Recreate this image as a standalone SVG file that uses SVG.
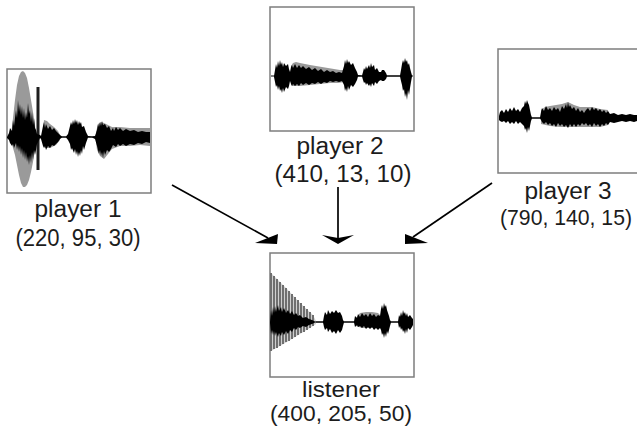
<svg xmlns="http://www.w3.org/2000/svg" width="637" height="432" viewBox="0 0 637 432">
  <style>
    .frame { fill: #ffffff; stroke: #7d7d7d; stroke-width: 1.5; }
    .wave { fill: #000000; }
    .halo { fill: #9a9a9a; }
    .axis { stroke: #000000; stroke-width: 1; }
    .label { font-family: "Liberation Sans", Arial, sans-serif; font-size: 23px; fill: #1c1c1c; text-anchor: middle; }
    .edge { stroke: #000000; stroke-width: 1.7; fill: none; }
    .head { fill: #000000; }
  </style>
  <rect width="637" height="432" fill="#ffffff"/>

  <!-- player 1 -->
  <g id="player1">
    <rect class="frame" x="7" y="69" width="144" height="124"/>
    <line class="axis" x1="8" y1="137" x2="150" y2="137"/>
    <polygon class="halo" points="11,135 13,118 15,100 17,85 19,76 21,72 23,71 25,73 27,78 29,88 31,100 33,112 35,125 36,135 36,140 35,150 33,162 31,172 29,180 27,185 25,187 23,187 21,183 19,175 17,165 15,155 13,148 11,140"/>
    <polygon class="halo" points="43,130 44,120 47,121 50,124 54,127 58,131 60,135 60,140 56,145 50,148 45,148 43,145"/>
    <polygon class="halo" points="96,132 98,124 101,122 104,123 108,125 112,127 120,127 130,128 140,128 150,128 150,146 140,145 130,146 120,146 112,149 108,154 104,159 100,156 97,150 96,142"/>
    <rect x="36.5" y="87" width="3" height="83" fill="#1e1e1e"/>
    <polygon class="wave" points="7,137 9,133 10,128 12,131 13,120 14,126 16,110 17,118 18,100 19,112 20,104 21,115 22,106 23,118 24,108 25,120 26,112 27,118 28,103 29,114 30,110 31,122 32,112 33,125 34,118 35,128 36,130 37,134 40,135 41,136 43,126 44,122 45,128 46,124 48,129 50,126 52,130 54,128 56,131 58,133 60,135 62,136.5 66,136.5 68,134 70,126 71,122 72,125 73,120 74,124 75,119 76,123 77,120 78,125 79,121 80,124 81,122 82,127 84,126 86,132 88,136 92,136.5 95,136 97,130 98,124 99,127 100,122 101,126 102,121 103,125 105,124 107,128 109,126 111,131 113,128 114,131 116,127 118,130 120,128 123,131 126,129 130,131 134,130 138,132 142,131 146,132 150,132 150,143 146,142 142,144 138,143 134,145 130,144 126,146 123,144 120,146 118,144 116,147 113,145 111,149 109,152 107,150 105,155 104,151 103,158 102,152 101,156 100,150 99,154 97,146 95,139 92,137.5 88,137.5 86,143 84,150 83,146 82,154 81,150 80,156 79,152 78,157 77,151 76,155 75,149 74,153 72,148 71,150 70,144 68,140 66,137.5 62,137.5 60,139 58,142 56,144 54,146 52,145 50,148 48,146 46,150 45,146 44,148 43,146 41,139 40,138 37,144 36,150 35,155 34,150 33,160 32,152 31,163 30,155 29,165 28,156 27,162 26,152 25,160 24,150 23,158 22,148 21,155 20,146 19,152 18,145 17,150 16,143 14,148 13,144 12,146 10,143 9,140 7,138"/>
    <text class="label" x="78" y="217" textLength="87" lengthAdjust="spacingAndGlyphs">player 1</text>
    <text class="label" x="78" y="246" textLength="125" lengthAdjust="spacingAndGlyphs">(220, 95, 30)</text>
  </g>

  <!-- player 2 -->
  <g id="player2">
    <rect class="frame" x="270" y="7" width="144" height="124"/>
    <line class="axis" x1="271" y1="76" x2="413" y2="76"/>
    <polygon class="halo" points="291,66 293,63 296,62 300,63 305,64 310,65 316,66 322,67 328,68 334,69 340,70 344,70 344,82 338,83 330,83 320,84 310,85 300,86 292,86 291,84"/>
    <polygon class="wave" points="274,76 275,70 276,64 277,68 278,61 279,66 280,60 281,65 282,62 283,67 284,63 286,66 288,64 289,69 290,72 291,67 292,65 293,68 295,64 297,68 299,65 301,68 303,66 306,69 309,67 312,70 315,68 318,71 321,69 324,72 327,70 330,72 333,71 336,73 339,72 342,73 344,66 345,60 346,64 347,59 348,63 349,61 351,65 353,63 355,68 357,72 358,75 362,75.5 363,72 364,68 365,70 366,66 367,69 369,65 370,68 371,63 372,67 374,65 375,70 377,68 379,72 381,72 382,70 384,70 386,73 387,75.5 400,75.5 401,70 402,64 403,60 404,63 405,58 406,62 407,60 408,65 409,63 410,68 411,72 412,75.5 412,76.5 411,82 410,88 409,95 408,90 407,100 406,93 405,97 404,89 403,91 402,85 401,81 400,76.5 387,76.5 386,79 384,81 382,81 381,80 379,81 377,84 375,82 374,86 372,83 371,87 370,84 369,86 367,83 366,85 365,82 364,83 363,80 362,76.5 358,76.5 357,80 355,84 353,87 351,85 349,90 348,86 347,92 346,88 345,91 344,85 342,81 339,82 336,81 333,82 330,81 327,83 324,82 321,84 318,82 315,84 312,83 309,85 306,83 303,85 301,83 299,86 297,84 295,86 293,84 292,86 291,84 290,81 289,86 288,89 286,87 284,92 283,88 282,93 281,89 280,91 279,86 278,90 277,85 276,87 275,82 274,77"/>
    <text class="label" x="340" y="154" textLength="87" lengthAdjust="spacingAndGlyphs">player 2</text>
    <text class="label" x="343" y="182" textLength="137" lengthAdjust="spacingAndGlyphs">(410, 13, 10)</text>
  </g>

  <!-- player 3 -->
  <g id="player3">
    <rect class="frame" x="498" y="49" width="144" height="124"/>
    <line class="axis" x1="499" y1="118" x2="637" y2="118"/>
    <polygon class="halo" points="541,110 545,107 550,106 556,105 562,104 568,102 574,105 580,107 586,107 592,107 600,109 608,110 608,125 600,127 590,127 580,127 570,127 560,127 550,126 541,124"/>
    <polygon class="wave" points="499,116 500,112 502,110 504,113 506,109 508,112 510,108 512,111 514,107 516,111 518,109 520,112 522,108 524,106 525,101 526,104 527,100 528,103 529,105 530,110 531,115 532,117.5 540,117.5 541,112 542,108 544,111 546,106 548,110 550,108 552,111 554,107 556,110 558,108 560,112 562,106 564,109 566,104 567,108 568,102 569,107 570,105 572,109 574,107 576,111 578,108 580,112 582,110 584,113 586,110 588,108 590,111 592,107 594,110 596,108 598,111 600,109 602,112 604,110 606,113 608,111 610,114 614,113 618,115 622,114 626,115 630,114 634,115 637,115 637,121 634,122 630,121 626,122 622,121 618,122 614,123 610,122 608,125 606,123 604,126 602,124 600,127 598,124 596,126 594,123 592,127 590,124 588,126 586,123 584,125 582,123 580,126 578,124 576,127 574,124 572,127 570,124 568,128 566,125 564,127 562,124 560,126 558,123 556,127 554,124 552,126 550,123 548,125 546,122 544,124 542,122 541,120 540,118.5 532,118.5 531,121 530,126 529,131 528,127 527,133 526,128 525,130 524,126 522,124 520,122 518,124 516,121 514,124 512,122 510,124 508,121 506,123 504,121 502,122 500,121 499,120"/>
    <text class="label" x="568" y="199" textLength="87" lengthAdjust="spacingAndGlyphs">player 3</text>
    <text class="label" x="566" y="225" textLength="132" lengthAdjust="spacingAndGlyphs" style="font-size:22px">(790, 140, 15)</text>
  </g>

  <!-- listener -->
  <g id="listener">
    <rect class="frame" x="270" y="253" width="144" height="124"/>
    <line class="axis" x1="271" y1="322" x2="413" y2="322"/>
    <polygon fill="#cfcfcf" points="271,273 287,289 300,303 313,315 316,321 316,324 313,326 300,334 287,342 271,351"/>
    <g stroke="#6f6f6f" stroke-width="2">
      <line x1="271" y1="273" x2="271" y2="351"/>
      <line x1="274" y1="276" x2="274" y2="349"/>
      <line x1="277" y1="279" x2="277" y2="348"/>
      <line x1="280" y1="282" x2="280" y2="346"/>
      <line x1="283" y1="285" x2="283" y2="344"/>
      <line x1="286" y1="288" x2="286" y2="342"/>
      <line x1="289" y1="291" x2="289" y2="341"/>
      <line x1="292" y1="294" x2="292" y2="339"/>
      <line x1="295" y1="297" x2="295" y2="337"/>
      <line x1="298" y1="300" x2="298" y2="335"/>
      <line x1="301" y1="303" x2="301" y2="333"/>
      <line x1="304" y1="306" x2="304" y2="332"/>
      <line x1="307" y1="309" x2="307" y2="330"/>
      <line x1="310" y1="312" x2="310" y2="328"/>
      <line x1="313" y1="315" x2="313" y2="326"/>
    </g>
    <polygon class="halo" points="356,318 360,313 366,312 372,312 378,313 380,315 380,327 372,328 362,328 356,326"/>
    <polygon class="wave" points="270,322 271,310 272,316 273,307 274,313 275,306 276,312 278,305 279,311 281,307 282,312 284,308 286,313 288,310 290,314 292,311 294,315 296,313 298,316 300,315 303,318 306,317 309,319 312,320 315,321.5 323,321.5 324,316 325,312 327,315 328,310 330,314 332,311 334,313 336,310 338,313 340,312 342,316 343,320 344,321.5 354,321.5 355,316 357,318 358,314 360,317 362,313 364,316 366,314 368,317 370,313 372,316 374,314 376,317 378,315 380,316 381,309 382,305 383,309 384,303 385,307 386,305 387,310 388,313 389,316 390,320 391,321.5 398,321.5 399,315 400,317 401,312 402,316 403,310 404,314 405,312 406,316 407,313 408,317 410,315 412,318 413,319 413,325 412,327 410,330 408,328 407,333 406,329 405,334 404,330 403,332 402,328 401,330 400,326 399,328 398,322.5 391,322.5 390,326 389,330 388,334 387,331 386,337 385,333 384,338 383,333 382,335 381,330 380,328 378,330 376,328 374,330 372,327 370,329 368,327 366,329 364,326 362,328 360,326 358,327 357,325 355,327 354,322.5 344,322.5 343,326 342,330 340,333 338,330 336,334 334,331 332,333 330,329 328,332 327,328 325,330 324,327 323,322.5 315,322.5 312,324 309,325 306,327 303,326 300,328 298,327 296,330 294,328 292,332 290,330 288,334 286,331 284,335 282,332 281,336 279,333 278,337 276,332 275,336 274,331 273,335 272,330 271,334 270,323"/>
    <text class="label" x="341" y="397" textLength="78" lengthAdjust="spacingAndGlyphs" style="font-size:22px">listener</text>
    <text class="label" x="341" y="421" textLength="142" lengthAdjust="spacingAndGlyphs" style="font-size:22px">(400, 205, 50)</text>
  </g>

  <!-- connectors -->
  <g id="connectors">
    <line class="edge" x1="172" y1="185" x2="268" y2="238"/>
    <polygon class="head" points="255,243 278,234 277,244"/>
    <line class="edge" x1="338" y1="187" x2="338" y2="238"/>
    <polygon class="head" points="322,235 338,238 354,235 338,244"/>
    <line class="edge" x1="492" y1="183" x2="413" y2="237"/>
    <polygon class="head" points="405,234 428,243 405,244"/>
  </g>
</svg>
